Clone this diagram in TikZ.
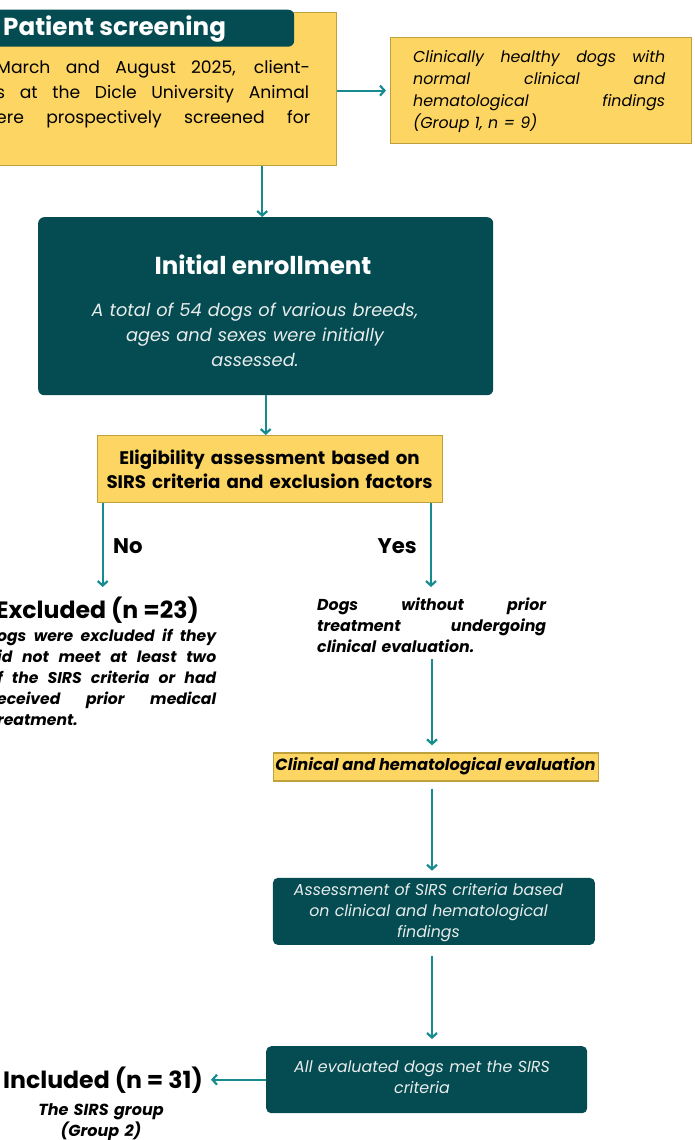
\documentclass[tikz,border=0pt]{standalone}
\usepackage{fontspec}
\setmainfont{Poppins}
\usetikzlibrary{arrows.meta,positioning}

\definecolor{tealdark}{RGB}{4,76,81}
\definecolor{boxyellow}{RGB}{253,213,99}
\definecolor{boxedge}{RGB}{190,160,60}
\definecolor{arrowteal}{RGB}{22,140,145}
\definecolor{paletext}{RGB}{232,236,236}

% one justified line of a given width
\newcommand{\jline}[2]{\leavevmode\hbox to #1{\spaceskip=0.25em plus 1fil\relax #2}}

\begin{document}
\begin{tikzpicture}[x=1pt, y=-1pt,
    every node/.style={inner sep=0pt},
    ybox/.style={draw=boxedge, fill=boxyellow, line width=1.2pt},
    tbox/.style={fill=tealdark, rounded corners=6pt},
    txt/.style={align=left},
    flow/.style={draw=arrowteal, line width=2.2pt, -{Straight Barb[length=4.5pt,width=10pt]}},
    spaced/.style={shorten <=7pt, shorten >=7pt},
]
\path[use as bounding box, clip] (0,0) rectangle (695,1140);

% screening
\node[ybox, anchor=north east, minimum width=360, minimum height=153] (screen) at (337,12) {};
\node[tbox, anchor=north west, minimum width=310, minimum height=37] (screenhead) at (-16,9.5) {};
\node[font=\bfseries\fontsize{24.6}{28}\selectfont, text=white, anchor=base west] (screentitle) at (3,36) {Patient screening};
\node[txt, text width=314pt, anchor=base west, font=\fontsize{17.2}{25}\selectfont] (screentext) at (-4,74) {%
  \jline{314pt}{March and August 2025, client-}\\
  \jline{313pt}{s at the Dicle University Animal}\\
  \jline{314pt}{ere prospectively screened for}};

\node[ybox, anchor=north west, minimum width=301, minimum height=106] (healthy) at (390,37) {};
\node[txt, text width=252pt, anchor=base west, font=\itshape\fontsize{15.8}{22}\selectfont] (healthytext) at (413,63) {%
  \jline{252pt}{Clinically healthy dogs with}\\
  \jline{252pt}{normal clinical and}\\
  \jline{252pt}{hematological findings}\\
  (Group 1, n = 9)};

% enrollment
\node[tbox, anchor=north west, minimum width=455, minimum height=178] (enroll) at (38,217) {};
\node[font=\bfseries\fontsize{24.5}{28}\selectfont, text=white, anchor=base] (enrolltitle) at (263,274) {Initial enrollment};
\node[align=center, text width=400pt, anchor=base, text=paletext, font=\itshape\fontsize{17.8}{25}\selectfont] (enrolltext) at (255,316) {%
  A total of 54 dogs of various breeds,\\ ages and sexes were initially\\ assessed.};

\node[ybox, anchor=north west, minimum width=345, minimum height=67] (elig) at (96.7,435) {};
\node[align=center, text width=340pt, anchor=base, font=\bfseries\fontsize{18.2}{24}\selectfont] (eligtext) at (269.5,464.3) {%
  Eligibility assessment based on\\ SIRS criteria and exclusion factors};

\node[font=\bfseries\fontsize{21.2}{24}\selectfont, anchor=base west] (nolabel) at (113,553) {No};
\node[font=\bfseries\fontsize{21.2}{24}\selectfont, anchor=base east] (yeslabel) at (417,553) {Yes};

% excluded branch
\node[font=\bfseries\fontsize{23.6}{28}\selectfont, anchor=base east] (excluded) at (199,618) {Excluded (n =23)};
\node[txt, text width=219pt, anchor=base west, font=\bfseries\itshape\fontsize{15.6}{21}\selectfont] (excltext) at (-3,641.7) {%
  \jline{219pt}{ogs were excluded if they}\\
  \jline{219pt}{id not meet at least two}\\
  \jline{219pt}{f the SIRS criteria or had}\\
  \jline{219pt}{eceived prior medical}\\
  reatment.};

% included branch
\node[txt, text width=229pt, anchor=base west, font=\bfseries\itshape\fontsize{15.8}{21}\selectfont] (yestext) at (317,610) {%
  \jline{229pt}{Dogs without prior}\\
  \jline{229pt}{treatment undergoing}\\
  clinical evaluation.};

\node[ybox, anchor=north west, minimum width=325, minimum height=28] (clin) at (272.7,752.3) {};
\node[font=\bfseries\itshape\fontsize{16.2}{20}\selectfont, anchor=base] (clintext) at (435.5,770.5) {Clinical and hematological evaluation};

\node[tbox, rounded corners=5pt, anchor=north west, minimum width=322, minimum height=67] (assess) at (272.7,877.7) {};
\node[align=center, text width=320pt, anchor=base, text=paletext, font=\itshape\fontsize{15.8}{21}\selectfont] (assesstext) at (428.5,895) {%
  Assessment of SIRS criteria based\\ on clinical and hematological\\ findings};

\node[tbox, rounded corners=5pt, anchor=north west, minimum width=321, minimum height=67] (alleval) at (266,1046) {};
\node[align=center, text width=320pt, anchor=base, text=paletext, font=\itshape\fontsize{15.9}{21}\selectfont] (allevaltext) at (422,1072) {%
  All evaluated dogs met the SIRS\\ criteria};

\node[font=\bfseries\fontsize{23.6}{28}\selectfont, anchor=base west] (included) at (3,1088.3) {Included (n = 31)};
\node[align=center, text width=160pt, anchor=base, font=\bfseries\itshape\fontsize{16}{21}\selectfont] (sirsgroup) at (101,1115) {%
  The SIRS group\\ (Group 2)};

% connectors
\coordinate (dropA) at ([xshift=-3.5pt]enroll.north);
\coordinate (noend) at (102.7,587);
\coordinate (yesend) at (431,587);
\coordinate (spine) at (432,0);

\draw[flow, shorten >=4pt] (screen.east |- healthy.west) -- (healthy.west);
\draw[flow] (dropA |- screen.south) -- (dropA);
\draw[flow] (enroll.south) -- (enroll.south |- elig.north);
\draw[flow] (noend |- elig.south) -- (noend);
\draw[flow] (yesend |- elig.south) -- (yesend);
\draw[flow, spaced] (spine |- yestext.south) -- (spine |- clin.north);
\draw[flow, spaced] (spine |- clin.south) -- (spine |- assess.north);
\draw[flow, spaced, shorten <=11pt] (spine |- assess.south) -- (spine |- alleval.north);
\draw[flow, shorten >=8pt] (alleval.west) -- (alleval.west -| included.east);
\end{tikzpicture}
\end{document}
